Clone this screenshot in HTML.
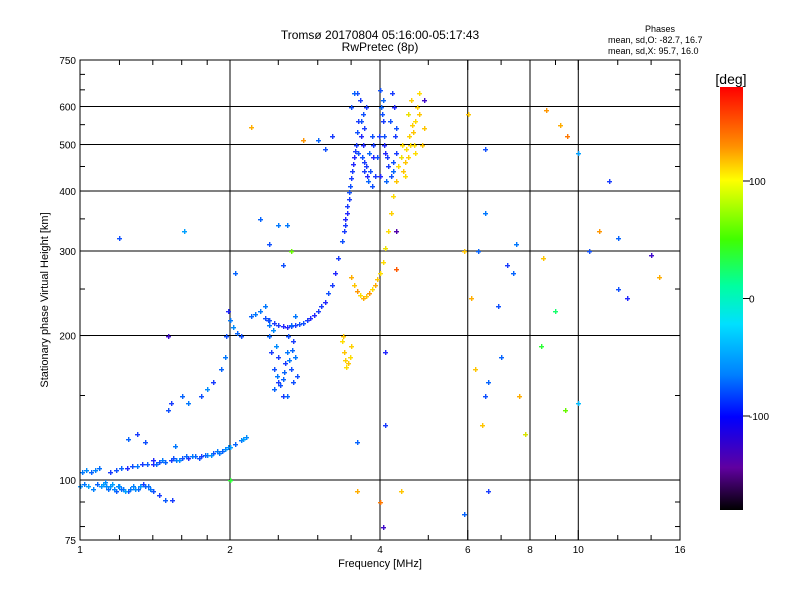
<!DOCTYPE html>
<html><head><meta charset="utf-8"><style>
body{margin:0;background:#fff;}
svg{display:block;font-family:"Liberation Sans","DejaVu Sans",sans-serif;}
</style></head><body>
<svg id="chart" width="800" height="600" xmlns="http://www.w3.org/2000/svg">
<defs><linearGradient id="cb" x1="0" y1="0" x2="0" y2="1">
<stop offset="0" stop-color="#ff0000"/><stop offset="0.14" stop-color="#ff9000"/><stop offset="0.22" stop-color="#ffff00"/>
<stop offset="0.36" stop-color="#40ff00"/><stop offset="0.47" stop-color="#00ffa0"/><stop offset="0.56" stop-color="#00e0ff"/>
<stop offset="0.68" stop-color="#0080ff"/><stop offset="0.78" stop-color="#0000ff"/><stop offset="0.9" stop-color="#6000a0"/><stop offset="1" stop-color="#000000"/>
</linearGradient></defs>
<text x="380" y="39" font-size="12" text-anchor="middle">Tromsø 20170804 05:16:00-05:17:43</text>
<text x="380" y="51" font-size="12" text-anchor="middle">RwPretec (8p)</text>
<text x="660" y="32" font-size="9" text-anchor="middle">Phases</text>
<text x="608" y="43" font-size="9">mean, sd,O: -82.7, 16.7</text>
<text x="608" y="54" font-size="9">mean, sd,X:  95.7, 16.0</text>
<g id="grid"></g>
<g id="pts"></g>
<rect x="80" y="60" width="600" height="480" fill="none" stroke="#000" stroke-width="1"/>
<g id="axes"></g>
<text x="380" y="567" font-size="11" text-anchor="middle">Frequency [MHz]</text>
<text transform="translate(48,300) rotate(-90)" font-size="11" text-anchor="middle">Stationary phase Virtual Height [km]</text>
<rect x="720" y="87" width="23" height="423" fill="url(#cb)"/>
<text x="731" y="84" font-size="14" text-anchor="middle">[deg]</text>
<g id="cbax"></g>
</svg>
<script>
const NS="http://www.w3.org/2000/svg";
const xTicks=[1,2,4,6,8,10,16];
const xGrid=[2,4,6,8,10];
const xMinor=[1.2,1.4,1.6,1.8,2.5,3,3.5,5,7,9,12,14];
const yTicks=[75,100,200,300,400,500,600,750];
const yGrid=[100,200,300,400,500,600];
const yMinor=[80,90,150,250,350,450,550,650,700];
const cbTicks=[100,0,-100];
// echo traces: frequency [MHz], virtual height [km], phase [deg]
const lowF=[1.00,1.02,1.04,1.06,1.08,1.10,1.12,1.14,1.16,1.18,1.20,1.22,1.25,1.28,1.31,1.34,1.37,1.40,1.44,1.48,1.01,1.03,1.05,1.07,1.09,1.11,1.13,1.15,1.17,1.19,1.21,1.23,1.26,1.29,1.32,1.35,1.38];
const lowH=[97,98,97,96,98,97,99,96,98,95,97,96,95,97,96,98,97,95,93,91,104,105,104,105,106,98,97,97,96,97,96,95,96,96,97,97,96];
const lowP=[-70,-80,-60,-75,-90,-65,-70,-85,-60,-95,-70,-80,-100,-75,-90,-110,-85,-100,-110,-95,-80,-70,-90,-75,-85,-60,-70,-65,-75,-70,-85,-60,-80,-70,-65,-90,-80];
const midF=[1.15,1.18,1.21,1.24,1.27,1.30,1.33,1.36,1.40,1.44,1.48,1.52,1.56,1.60,1.65,1.70,1.75,1.80,1.85,1.90,1.95,2.00,2.05,2.10,1.50,1.52,1.60,1.65,1.75,1.80,1.85,1.92,1.95,1.96,1.98,2.00,2.03,2.07,2.10,1.30,1.25,1.35,1.55,1.42,1.46,1.54,1.58,1.63,1.68,1.73,1.78,1.83,1.88,1.93,1.98,2.12,2.15];
const midH=[104,105,106,106,107,107,108,108,108,109,109,110,110,111,111,112,112,113,114,114,116,117,119,121,140,145,150,145,150,155,160,170,180,200,225,215,208,202,200,125,122,120,118,108,110,111,110,112,112,111,113,113,115,115,117,122,123];
const midP=[-110,-100,-90,-120,-100,-80,-110,-95,-120,-100,-90,-110,-80,-100,-120,-90,-110,-70,-100,-80,-70,-60,-90,-80,-100,-110,-90,-80,-100,-70,-110,-90,-80,-100,-120,-80,-70,-90,-100,-110,-90,-100,-80,-90,-80,-100,-70,-90,-80,-100,-90,-70,-80,-90,-70,-60,-70];
const riseF=[2.2,2.3,2.4,2.5,2.6,2.7,2.8,2.9,3.0,3.1,3.2,3.25,3.3,3.35,3.4,3.43,3.46,3.49,3.52,3.55,3.58,3.60,3.62,3.1,3.0,3.2,3.5,3.55,2.25,2.35,2.45,2.55,2.65,2.75,2.85,2.95,3.05,3.15,3.38,3.41,3.44,3.47,3.50,3.53,3.56];
const riseH=[220,225,215,210,208,210,212,218,225,235,255,270,290,315,340,360,385,410,440,470,500,530,560,490,510,520,600,640,222,218,212,209,209,211,215,221,230,245,330,350,372,398,425,455,485];
const riseP=[-90,-80,-100,-110,-120,-110,-100,-120,-110,-120,-110,-120,-110,-100,-110,-120,-110,-100,-110,-120,-110,-100,-110,-100,-90,-110,-100,-90,-80,-100,-110,-120,-110,-100,-110,-120,-110,-100,-110,-120,-110,-100,-110,-120,-110];
const clusF=[2.35,2.38,2.40,2.42,2.45,2.48,2.50,2.52,2.55,2.58,2.60,2.62,2.65,2.68,2.70,2.72,2.55,2.45,2.65,2.70,2.50,2.60,2.68,2.40,2.47,2.57,2.63,2.44,2.66];
const clusH=[230,215,200,185,170,165,160,158,162,175,185,200,210,195,180,165,150,155,170,220,180,150,160,210,190,168,178,205,187];
const clusP=[-80,-100,-90,-110,-100,-80,-110,-100,-90,-110,-80,-100,-90,-110,-80,-100,-110,-90,-100,-80,-110,-90,-100,-80,-70,-90,-80,-70,-90];
const loopF=[3.65,3.70,3.72,3.70,3.68,3.72,3.78,3.85,3.90,3.88,3.85,3.80,3.75,3.62,3.66,3.75,3.60,4.00,4.02,4.05,4.08,4.10,4.15,4.20,4.25,4.30,4.30,4.27,4.22,4.18,4.12,3.98,3.95,4.00,4.05,3.67,3.71,3.76,3.82,3.87,4.03,4.07,4.14,4.24,4.28];
const loopH=[620,580,540,500,470,440,420,410,430,470,520,480,450,480,520,600,640,650,600,560,520,480,450,430,440,480,540,600,640,560,420,520,470,430,620,560,460,430,440,500,580,500,470,460,520];
const loopP=[-110,-100,-110,-120,-100,-110,-90,-100,-110,-120,-100,-90,-110,-100,-120,-110,-100,-100,-90,-110,-100,-120,-110,-100,-90,-110,-100,-120,-110,-100,-90,-110,-100,-120,-90,-100,-110,-120,-100,-110,-100,-120,-110,-100,-110];
const xmodF=[3.5,3.55,3.6,3.65,3.7,3.75,3.8,3.85,3.9,3.95,4.0,4.05,4.1,4.15,4.2,4.25,4.3,4.35,4.4,4.45,4.5,4.55,4.6,4.65,4.7,4.75,4.8,4.55,4.85,4.7,4.62,4.9,3.35,3.38,3.40,3.42,3.45,3.48,3.50,3.37,4.42,4.48,4.58,4.68,4.78,4.52,4.64];
const xmodH=[265,255,248,243,240,242,245,250,255,262,270,285,305,330,360,390,420,450,470,440,430,470,500,530,560,600,640,580,500,480,620,540,195,185,178,172,175,180,190,200,500,460,520,500,580,490,550];
const xmodP=[120,110,130,100,120,110,130,100,120,110,100,100,95,100,105,100,110,100,95,110,100,105,100,110,100,105,100,95,110,100,105,110,100,110,105,100,110,100,105,110,100,110,105,100,110,100,105];
const scatF=[6.0,6.5,6.5,6.3,6.1,6.2,6.6,6.5,7.0,7.2,7.5,8.5,8.6,9.2,9.5,10.0,10.5,11.5,12.0,14.0,9.0,8.4,10.0,9.4,7.6,7.8,6.6,6.4,4.9,4.1,4.1,4.4,4.0,4.05,3.6,3.6,4.3,4.3,2.55,2.3,2.5,2.65,2.4,2.05,2.0,1.5,1.4,1.53,2.2,2.8,2.6,5.9,6.9,7.4,11.0,12.5,14.5,5.9,12.0,1.2,1.62];
const scatH=[580,490,360,300,240,170,160,150,180,280,310,290,590,550,520,480,300,420,320,295,225,190,145,140,150,125,95,130,620,185,130,95,90,80,95,120,330,275,280,350,340,300,310,270,100,200,110,91,545,510,340,300,230,270,330,240,265,85,250,320,330];
const scatP=[110,-100,-80,-90,120,110,-90,-100,-90,-110,-80,110,130,120,140,-60,-100,-110,-90,-140,30,40,-40,60,120,90,-110,110,-140,-120,-110,110,140,-140,120,-90,-150,150,-100,-90,-80,60,-100,-90,40,-140,-120,-110,120,130,-80,110,-100,-90,130,-120,120,-90,-100,-100,-60];

const X0=80,X1=680,Y0=540,Y1=60;
const xs=f=>X0+(X1-X0)*Math.log2(f)/4;
const ys=h=>Y0-(Y0-Y1)*Math.log10(h/75);
const cbY=p=>510-423*(p+180)/360;
const stops=[[-180,[0,0,0]],[-150,[80,0,170]],[-125,[40,30,255]],[-105,[20,70,255]],[-85,[0,110,255]],[-60,[0,160,255]],[-15,[0,224,255]],[20,[0,255,160]],[50,[64,255,0]],[100,[255,220,0]],[130,[255,150,0]],[180,[255,0,0]]];
function col(p){for(let i=1;i<stops.length;i++){if(p<=stops[i][0]){const a=stops[i-1],b=stops[i],t=(p-a[0])/(b[0]-a[0]);const c=a[1].map((v,k)=>Math.round(v+(b[1][k]-v)*t));return "rgb("+c.join(",")+")";}}return "rgb(255,0,0)";}
function mk(tag,attrs,parent){const e=document.createElementNS(NS,tag);for(const k in attrs)e.setAttribute(k,attrs[k]);parent.appendChild(e);return e;}
const grid=document.getElementById('grid'),axes=document.getElementById('axes'),pts=document.getElementById('pts'),cbax=document.getElementById('cbax');
xGrid.forEach(f=>{const l=mk('line',{x1:xs(f),x2:xs(f),y1:Y1,y2:Y0,stroke:'#000'},grid);

});
yGrid.forEach(h=>{const l=mk('line',{x1:X0,x2:X1,y1:ys(h),y2:ys(h),stroke:'#000'},grid);

});
xTicks.forEach(f=>{const x=xs(f);mk('line',{x1:x,x2:x,y1:Y0,y2:Y0-10,stroke:'#000'},axes);mk('line',{x1:x,x2:x,y1:Y1,y2:Y1+10,stroke:'#000'},axes);
const t=mk('text',{x:x,y:553,'font-size':10,'text-anchor':'middle'},axes);t.textContent=f;

});
xMinor.forEach(f=>{const x=xs(f);mk('line',{x1:x,x2:x,y1:Y0,y2:Y0-5,stroke:'#000'},axes);mk('line',{x1:x,x2:x,y1:Y1,y2:Y1+5,stroke:'#000'},axes);});
yTicks.forEach(h=>{const y=ys(h);mk('line',{x1:X0,x2:X0+10,y1:y,y2:y,stroke:'#000'},axes);mk('line',{x1:X1,x2:X1-10,y1:y,y2:y,stroke:'#000'},axes);
const t=mk('text',{x:76,y:y+4,'font-size':10,'text-anchor':'end'},axes);t.textContent=h;

});
yMinor.forEach(h=>{const y=ys(h);mk('line',{x1:X0,x2:X0+5,y1:y,y2:y,stroke:'#000'},axes);mk('line',{x1:X1,x2:X1-5,y1:y,y2:y,stroke:'#000'},axes);});
cbTicks.forEach(p=>{const y=cbY(p);mk('line',{x1:743,x2:750,y1:y,y2:y,stroke:'#000'},cbax);
const t=mk('text',{x:749,y:y+4,'font-size':10},cbax);t.textContent=p;

});
function draw(F,H,P,name){for(let i=0;i<F.length;i++){const x=Math.round(xs(F[i])),y=Math.round(ys(H[i]));
const c=col(P[i]);
const g=mk('g',{fill:c},pts);
mk('rect',{x:x-2,y:y,width:5,height:1.4},g);
mk('rect',{x:x,y:y-2,width:1.4,height:5},g);

}}
draw(lowF,lowH,lowP,'low-trace-point');
draw(midF,midH,midP,'e-trace-point');
draw(riseF,riseH,riseP,'f-trace-point');
draw(clusF,clusH,clusP,'cluster-point');
draw(loopF,loopH,loopP,'o-loop-point');
draw(xmodF,xmodH,xmodP,'x-mode-point');
draw(scatF,scatH,scatP,'scatter-point');
</script>
</body></html>
